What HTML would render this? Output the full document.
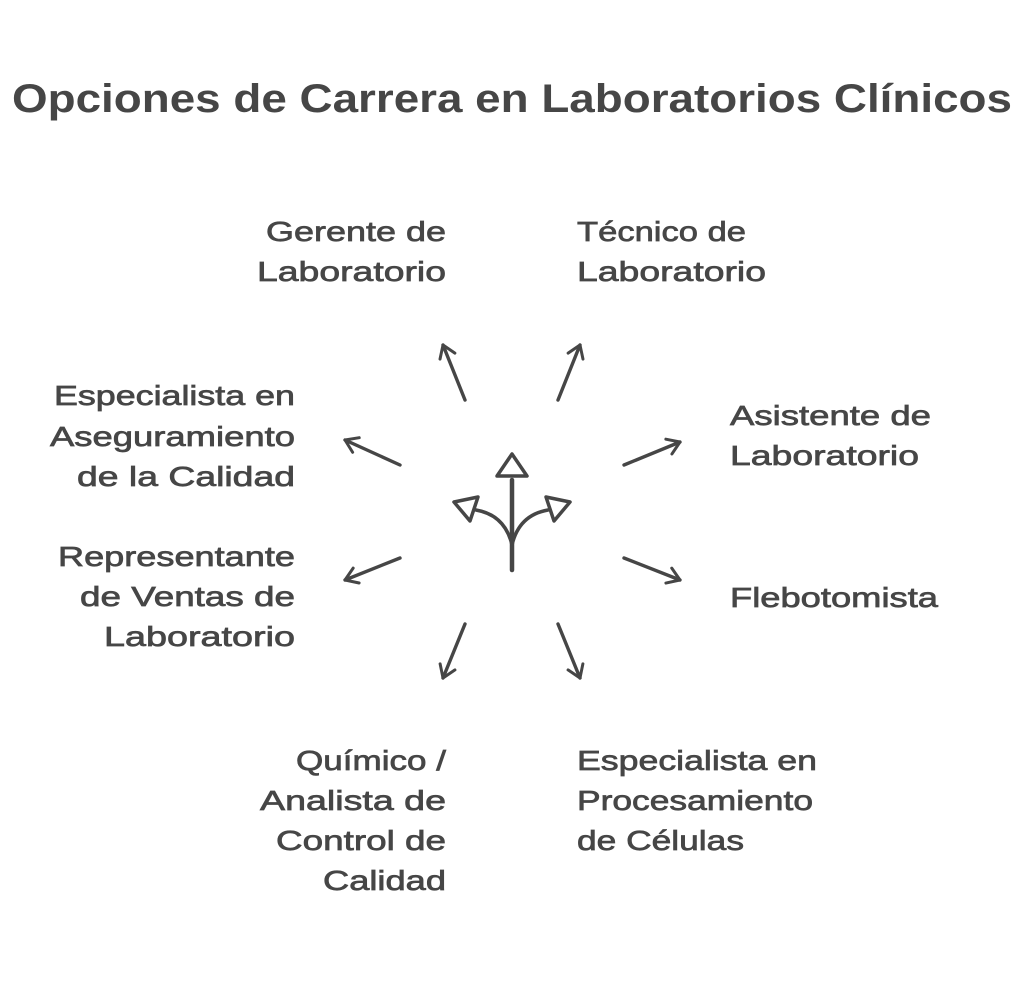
<!DOCTYPE html>
<html><head><meta charset="utf-8"><style>
html,body{margin:0;padding:0;background:#fff;}
svg{display:block}
text{font-family:"Liberation Sans",sans-serif;fill:#464646;}
.t{font-size:28px;stroke:#464646;stroke-width:0.7px;}
</style></head><body>
<svg width="1024" height="983" viewBox="0 0 1024 983">
<text x="12" y="112" font-size="40" font-weight="bold" textLength="1000" lengthAdjust="spacingAndGlyphs">Opciones de Carrera en Laboratorios Clínicos</text>
<g>
<text class="t" x="266" y="241" textLength="180" lengthAdjust="spacingAndGlyphs">Gerente de</text>
<text class="t" x="257" y="281" textLength="189" lengthAdjust="spacingAndGlyphs">Laboratorio</text>
<text class="t" x="577" y="241" textLength="169" lengthAdjust="spacingAndGlyphs">Técnico de</text>
<text class="t" x="577" y="281" textLength="189" lengthAdjust="spacingAndGlyphs">Laboratorio</text>
<text class="t" x="730" y="425" textLength="201" lengthAdjust="spacingAndGlyphs">Asistente de</text>
<text class="t" x="730" y="465" textLength="189" lengthAdjust="spacingAndGlyphs">Laboratorio</text>
<text class="t" x="730" y="607" textLength="208" lengthAdjust="spacingAndGlyphs">Flebotomista</text>
<text class="t" x="54" y="405" textLength="241" lengthAdjust="spacingAndGlyphs">Especialista en</text>
<text class="t" x="50" y="446" textLength="245" lengthAdjust="spacingAndGlyphs">Aseguramiento</text>
<text class="t" x="77" y="486" textLength="218" lengthAdjust="spacingAndGlyphs">de la Calidad</text>
<text class="t" x="58" y="566" textLength="237" lengthAdjust="spacingAndGlyphs">Representante</text>
<text class="t" x="80" y="606" textLength="215" lengthAdjust="spacingAndGlyphs">de Ventas de</text>
<text class="t" x="104" y="646" textLength="191" lengthAdjust="spacingAndGlyphs">Laboratorio</text>
<text class="t" x="296" y="770" textLength="150" lengthAdjust="spacingAndGlyphs">Químico /</text>
<text class="t" x="260" y="810" textLength="186" lengthAdjust="spacingAndGlyphs">Analista de</text>
<text class="t" x="276" y="850" textLength="170" lengthAdjust="spacingAndGlyphs">Control de</text>
<text class="t" x="323" y="890" textLength="123" lengthAdjust="spacingAndGlyphs">Calidad</text>
<text class="t" x="577" y="770" textLength="240" lengthAdjust="spacingAndGlyphs">Especialista en</text>
<text class="t" x="577" y="810" textLength="236" lengthAdjust="spacingAndGlyphs">Procesamiento</text>
<text class="t" x="577" y="850" textLength="167" lengthAdjust="spacingAndGlyphs">de Células</text>
</g>
<defs>
<marker id="a" viewBox="0 0 30 30" refX="24" refY="15" markerWidth="30" markerHeight="30" markerUnits="userSpaceOnUse" orient="auto">
<path d="M12 7 L24 15 L12 23" fill="none" stroke="#464646" stroke-width="3" stroke-linecap="round" stroke-linejoin="round"/>
</marker>
</defs>
<g stroke="#464646" stroke-width="3.4" stroke-linecap="round" fill="none" marker-end="url(#a)">
<line x1="465" y1="400" x2="443" y2="345"/>
<line x1="558" y1="400" x2="580" y2="345"/>
<line x1="400" y1="465" x2="345" y2="440"/>
<line x1="624" y1="465" x2="680" y2="442"/>
<line x1="400" y1="558" x2="345" y2="580"/>
<line x1="624" y1="558" x2="680" y2="580"/>
<line x1="465" y1="624" x2="443" y2="678"/>
<line x1="558" y1="624" x2="580" y2="678"/>
</g>
<g stroke="#464646" stroke-width="3.5" stroke-linecap="round" stroke-linejoin="round" fill="#fff">
<path d="M512 570 L512 480" fill="none" stroke-width="4.5"/>
<path d="M512 545 Q505 515 476 510" fill="none"/>
<path d="M512 545 Q519 515 548 510" fill="none"/>
<path d="M512 454 L527 476 L497 476 Z"/>
<path d="M454 502 L478 497 L470 521 Z"/>
<path d="M570 502 L546 497 L554 521 Z"/>
</g>
</svg>
</body></html>
